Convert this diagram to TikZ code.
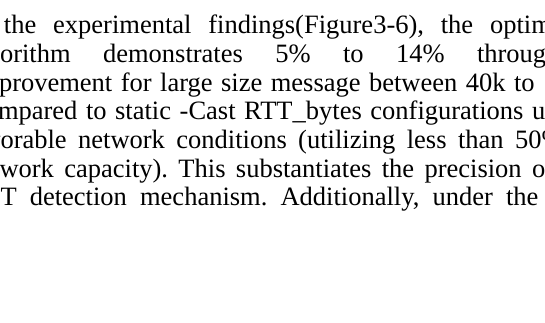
\documentclass[tikz,border=0pt]{standalone}
\usepackage{fontspec}
\setmainfont{Liberation Serif}
\tikzset{
  txt/.style={anchor=base west, inner sep=0pt, outer sep=0pt, font=\fontsize{26.5}{28.8}\selectfont, text=black}
}
% #1 node name, #2 x of first visible word, #3 x of last word, #4 baseline y, #5 words before last, #6 last word
\newcommand{\jline}[6]{%
  \node[txt] (#1) at (#2,#4) {\hbox to \dimexpr #3pt - #2pt\relax{#5}#6};%
}
\begin{document}
\begin{tikzpicture}[x=1pt,y=-1pt]
\path[use as bounding box, fill=white] (0,0) rectangle (545,322);
\clip (0,0) rectangle (545,322);
\jline{l1}{4}{490}{33}{the\hfill experimental\hfill findings(Figure3-6),\hfill the\hfill}{optim\rlap{ized}}
\jline{l2}{0}{477}{62}{\llap{alg}orithm\hfill demonstrates\hfill 5\%\hfill to\hfill 14\%\hfill}{throug\rlap{hput}}
\jline{l3}{-1}{514}{91}{\llap{im}provement\hfill for\hfill large\hfill size\hfill message\hfill between\hfill 40k\hfill}{to}
\jline{l4}{-2}{532}{119.5}{\llap{co}mpared\hfill to\hfill static\hfill -Cast\hfill RTT\_bytes\hfill configurations\hfill}{u\rlap{sing}}
\jline{l5}{0.5}{515}{148}{\llap{fav}orable\hfill network\hfill conditions\hfill (utilizing\hfill less\hfill than\hfill}{50\%}
\jline{l6}{-0.5}{532}{177}{\llap{net}work\hfill capacity).\hfill This\hfill substantiates\hfill the\hfill precision\hfill}{o\rlap{f}}
\jline{l7}{0.5}{506}{205.5}{\llap{RT}T\hfill detection\hfill mechanism.\hfill Additionally,\hfill under\hfill}{the}
\end{tikzpicture}
\end{document}
